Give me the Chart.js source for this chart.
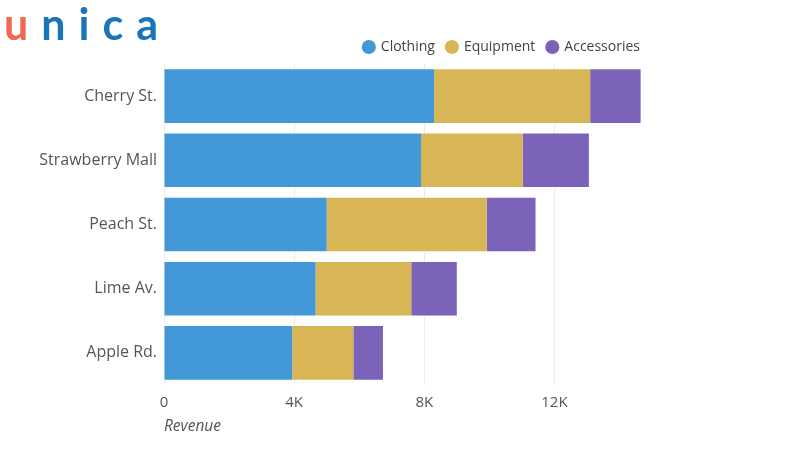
<!DOCTYPE html>
<html>
<head>
<meta charset="utf-8">
<script src="https://cdn.jsdelivr.net/npm/chart.js@4"></script>
<style>
  html, body { margin: 0; padding: 0; background: #fff; }
  #wrap { position: relative; width: 800px; height: 450px; }
  #logo { position: absolute; left: 4px; top: 1px; font-family: Lato, sans-serif; font-weight: 700; font-size: 43px; letter-spacing: 13px; line-height: 46px; }
  #logo .u { color: #f0694e; }
  #logo .n { color: #1b73b8; }
  canvas { position: absolute; left: 0; top: 0; }
</style>
</head>
<body>
<div id="wrap">
  <canvas id="c" width="800" height="450"></canvas>
  <div id="logo"><span class="u">u</span><span class="n">nica</span></div>
</div>
<script>
const stores = ["Cherry St.", "Strawberry Mall", "Peach St.", "Lime Av.", "Apple Rd."];
const clothing = [8300, 7900, 5000, 4660, 3940];
const equipment = [4800, 3130, 4920, 2940, 1880];
const accessories = [1550, 2030, 1500, 1400, 910];
const xTicks = [0, 4000, 8000, 12000];
const seriesNames = ["Clothing", "Equipment", "Accessories"];

const FONT = "'Open Sans', sans-serif";
new Chart(document.getElementById('c'), {
  type: 'bar',
  data: {
    labels: stores,
    datasets: [
      { label: seriesNames[0], data: clothing, backgroundColor: '#4398d7' },
      { label: seriesNames[1], data: equipment, backgroundColor: '#d8b656' },
      { label: seriesNames[2], data: accessories, backgroundColor: '#7b63ba' }
    ]
  },
  options: {
    indexAxis: 'y',
    responsive: false,
    animation: false,
    devicePixelRatio: 1,
    layout: { padding: { top: 28, right: 148, bottom: 0, left: 0 } },
    datasets: { bar: { categoryPercentage: 0.835, barPercentage: 1.0, borderWidth: 0 } },
    plugins: {
      legend: {
        position: 'top',
        align: 'end',
        labels: {
          usePointStyle: true, pointStyle: 'circle', boxWidth: 10, boxHeight: 10,
          color: '#444', font: { family: FONT, size: 14 }, padding: 12
        }
      },
      tooltip: { enabled: false }
    },
    scales: {
      x: {
        stacked: true,
        min: 0, max: 15000,
        afterBuildTicks: (s) => { s.ticks = xTicks.map(v => ({ value: v })); },
        afterFit: (s) => { s.height = 65; },
        grid: { color: '#ececec', drawTicks: false },
        border: { display: false },
        ticks: {
          padding: 9,
          color: '#555', font: { family: FONT, size: 15 },
          callback: (v) => v === 0 ? '0' : (v / 1000) + 'K'
        },
        title: {
          display: true, text: 'Revenue', align: 'start',
          color: '#555', font: { family: FONT, size: 15.5, style: 'italic' },
          padding: { top: 0, bottom: 14 }
        }
      },
      y: {
        stacked: true,
        afterFit: (s) => { s.width = 164; },
        grid: { display: false, drawTicks: false },
        border: { display: false },
        ticks: { padding: 7, color: '#555', font: { family: FONT, size: 16 } }
      }
    }
  }
});
</script>
</body>
</html>
